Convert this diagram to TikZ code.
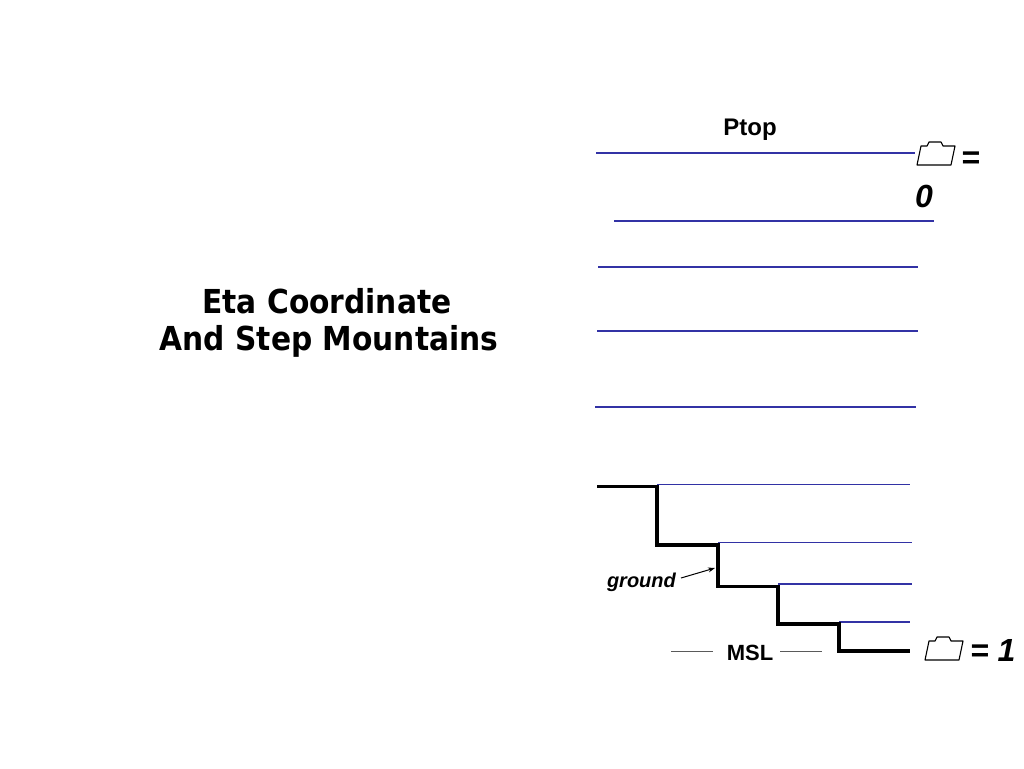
\documentclass[tikz,border=0pt]{standalone}
\usepackage{fontspec}
\setmainfont{Liberation Sans}
\newfontfamily\titlefont{DejaVu Sans Condensed}
\usetikzlibrary{arrows.meta}
\definecolor{lev}{RGB}{50,50,165}
\definecolor{msl}{RGB}{90,90,90}
\tikzset{
  level/.style={draw=lev, line width=1.2pt},
  ground line/.style={draw=black, line width=3.2pt, line join=miter},
  lbl/.style={inner sep=0pt, outer sep=0pt},
  bigeq/.style={lbl, font=\fontsize{32}{32}\selectfont\bfseries\itshape},
  titletext/.style={lbl, font=\titlefont\bfseries\fontsize{33}{37}\selectfont},
  folder/.pic={\draw[line width=1.1pt, line join=round]
     (4,-19) -- (10,-19) -- (12,-23) -- (24,-23) -- (26,-19) -- (38,-19) -- (34,0) -- (0,0) -- cycle;}
}
\begin{document}
\begin{tikzpicture}[x=1pt,y=-1pt]
\useasboundingbox (0,0) rectangle (1024,768);

% title
\node[titletext, anchor=base] (title1) at (327,313) {Eta Coordinate};
\node[titletext, anchor=base] (title2) at (329,350) {And Step Mountains};

% top label
\node[lbl, anchor=base, font=\fontsize{24}{24}\selectfont\bfseries] (ptop) at (750,135) {Ptop};

% eta levels
\draw[level] (596,153) -- (915,153);
\draw[level] (614,221) -- (934,221);
\draw[level] (598,267) -- (918,267);
\draw[level] (597,331) -- (918,331);
\draw[level] (595,407) -- (916,407);
\draw[level] (657,484.5) -- (910,484.5);
\draw[level] (718,542.5) -- (912,542.5);
\draw[level] (778,584) -- (912,584);
\draw[level] (839,622) -- (910,622);

% step mountain
\draw[ground line] (597,486.5) -- (657,486.5) -- (657,545) -- (718,545) -- (718,586.5)
  -- (778,586.5) -- (778,624) -- (839,624) -- (839,651) -- (910,651);

% eta = 0
\pic at (917,165) {folder};
\node[bigeq, anchor=base west] (eq0) at (961,168) {=};
\node[bigeq, anchor=base west] (zero) at (915,207) {0};

% eta = 1
\pic at (925,660) {folder};
\node[bigeq, anchor=base west] (eq1) at (970,661) {= 1};

% ground label and arrow
\node[lbl, anchor=base west, font=\fontsize{20}{20}\selectfont\bfseries\itshape] (ground) at (607,587) {ground};
\coordinate (gfrom) at (681,578);
\coordinate (gtip) at (715,568);
\draw[line width=1pt, -{Stealth[length=7pt,width=5pt]}] (gfrom) -- (gtip);

% MSL
\node[lbl, anchor=base, font=\fontsize{22}{22}\selectfont\bfseries] (msl) at (750,660) {MSL};
\draw[msl, line width=0.8pt] (671,651) -- (713,651);
\draw[msl, line width=0.8pt] (780,651) -- (822,651);
\end{tikzpicture}
\end{document}
